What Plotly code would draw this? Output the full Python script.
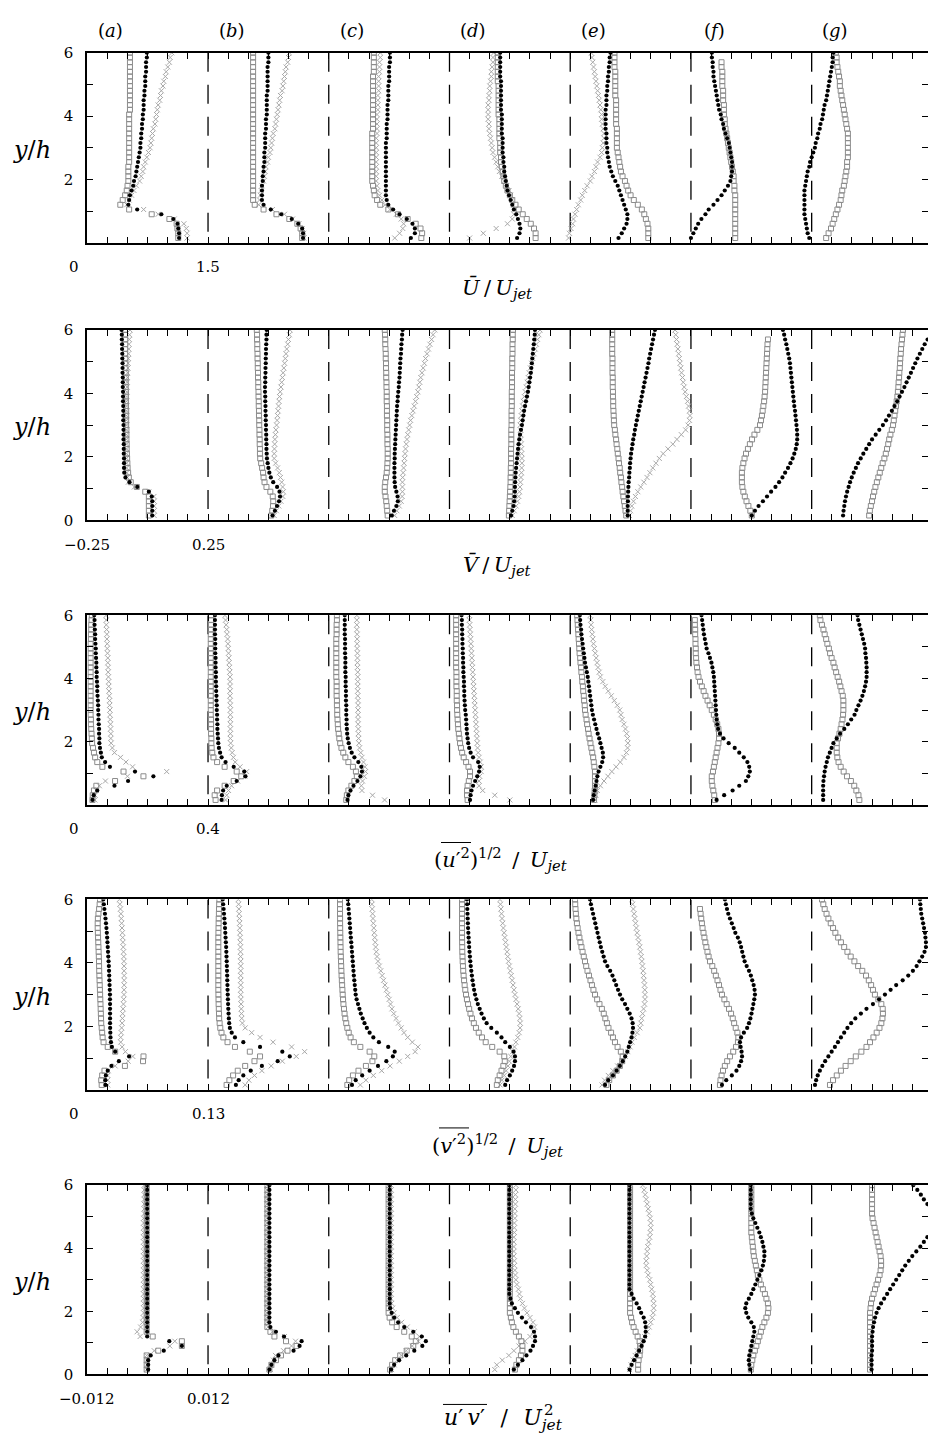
import plotly.graph_objects as go

W, H = 928, 1449
FONT = "DejaVu Serif"

# Wall-normal stations y/h shared by every profile
Y = [0.15, 0.30, 0.45, 0.60, 0.75, 0.90, 1.05, 1.20, 1.35, 1.50,
     1.65, 1.80, 1.95, 2.10, 2.25, 2.40, 2.55, 2.70, 2.85, 3.00,
     3.15, 3.30, 3.45, 3.60, 3.75, 3.90, 4.05, 4.20, 4.35, 4.50,
     4.65, 4.80, 4.95, 5.10, 5.25, 5.40, 5.55, 5.70, 5.85, 6.00]

STATIONS = ["a", "b", "c", "d", "e", "f", "g"]

# ---------------- mean streamwise velocity U/Ujet ----------------
U_squares = [
    [1.13, 1.13, 1.12, 1.11, 1.02, 0.80, 0.52, 0.41, 0.44, 0.47,
     0.49, 0.50, 0.51, 0.51, 0.51, 0.51, 0.52, 0.52, 0.52, 0.52,
     0.52, 0.52, 0.52, 0.52, 0.52, 0.52, 0.52, 0.53, 0.53, 0.53,
     0.53, 0.53, 0.53, 0.53, 0.53, 0.53, 0.53, 0.53, 0.53, 0.53],
    [1.17, 1.17, 1.15, 1.11, 1.01, 0.85, 0.69, 0.58, 0.56, 0.56,
     0.56, 0.56, 0.56, 0.56, 0.56, 0.56, 0.56, 0.56, 0.56, 0.56,
     0.56, 0.56, 0.56, 0.56, 0.56, 0.56, 0.56, 0.56, 0.56, 0.56,
     0.56, 0.56, 0.56, 0.56, 0.56, 0.56, 0.56, 0.56, 0.56, 0.56],
    [1.15, 1.16, 1.14, 1.08, 0.98, 0.86, 0.74, 0.64, 0.60, 0.57,
     0.56, 0.55, 0.54, 0.54, 0.54, 0.54, 0.54, 0.54, 0.54, 0.54,
     0.54, 0.54, 0.54, 0.55, 0.55, 0.55, 0.55, 0.55, 0.55, 0.55,
     0.55, 0.55, 0.55, 0.55, 0.55, 0.56, 0.56, 0.56, 0.56, 0.56],
    [1.07, 1.07, 1.05, 1.01, 0.96, 0.91, 0.86, 0.82, 0.78, 0.75,
     0.72, 0.70, 0.68, 0.67, 0.66, 0.65, 0.64, 0.64, 0.63, 0.63,
     0.63, 0.62, 0.62, 0.62, 0.62, 0.62, 0.61, 0.61, 0.61, 0.61,
     0.61, 0.61, 0.61, 0.60, 0.60, 0.60, 0.60, 0.60, 0.60, 0.60],
    [0.97, 0.97, 0.97, 0.96, 0.94, 0.92, 0.89, 0.84, 0.79, 0.75,
     0.72, 0.70, 0.68, 0.65, 0.63, 0.62, 0.61, 0.60, 0.59, 0.58,
     0.58, 0.58, 0.58, 0.58, 0.57, 0.57, 0.57, 0.57, 0.57, 0.57,
     0.56, 0.56, 0.56, 0.56, 0.56, 0.56, 0.55, 0.55, 0.55, 0.55],
    [0.55, 0.55, 0.55, 0.55, 0.55, 0.55, 0.55, 0.55, 0.55, 0.55,
     0.54, 0.54, 0.53, 0.53, 0.52, 0.51, 0.50, 0.49, 0.48, 0.47,
     0.46, 0.45, 0.44, 0.43, 0.42, 0.42, 0.41, 0.41, 0.41, 0.40,
     0.40, 0.40, 0.39, 0.39, 0.39, 0.39, 0.38, 0.38, None, None],
    [0.18, 0.21, 0.24, 0.26, 0.28, 0.30, 0.32, 0.34, 0.36, 0.37,
     0.38, 0.40, 0.41, 0.42, 0.43, 0.44, 0.44, 0.45, 0.45, 0.45,
     0.45, 0.45, 0.45, 0.44, 0.43, 0.42, 0.41, 0.40, 0.39, 0.38,
     0.37, 0.36, 0.35, 0.35, 0.34, 0.33, 0.32, 0.31, 0.31, 0.30],
]
U_dots = [
    [1.14, 1.14, 1.13, 1.12, 1.07, 0.92, 0.62, 0.51, 0.52, 0.53,
     0.55, 0.57, 0.58, 0.60, 0.61, 0.62, 0.63, 0.64, 0.65, 0.66,
     0.66, 0.67, 0.67, 0.68, 0.68, 0.69, 0.69, 0.70, 0.70, 0.70,
     0.71, 0.71, 0.72, 0.72, 0.72, 0.73, 0.73, 0.73, 0.74, 0.74],
    [1.18, 1.18, 1.17, 1.12, 1.04, 0.91, 0.78, 0.69, 0.67, 0.67,
     0.67, 0.67, 0.68, 0.68, 0.69, 0.69, 0.70, 0.70, 0.70, 0.71,
     0.71, 0.71, 0.71, 0.72, 0.72, 0.72, 0.73, 0.73, 0.73, 0.73,
     0.73, 0.74, 0.74, 0.74, 0.74, 0.74, 0.74, 0.75, 0.75, 0.75],
    [1.02, 1.07, 1.07, 1.04, 0.97, 0.88, 0.80, 0.74, 0.72, 0.71,
     0.71, 0.71, 0.71, 0.71, 0.71, 0.71, 0.71, 0.71, 0.71, 0.71,
     0.71, 0.72, 0.72, 0.72, 0.72, 0.73, 0.73, 0.73, 0.73, 0.74,
     0.74, 0.74, 0.74, 0.75, 0.75, 0.75, 0.75, 0.76, 0.76, 0.76],
    [0.84, 0.87, 0.88, 0.87, 0.85, 0.83, 0.80, 0.78, 0.76, 0.74,
     0.72, 0.71, 0.70, 0.69, 0.68, 0.68, 0.67, 0.67, 0.66, 0.66,
     0.66, 0.66, 0.65, 0.65, 0.65, 0.65, 0.65, 0.64, 0.64, 0.64,
     0.64, 0.64, 0.64, 0.64, 0.63, 0.63, 0.63, 0.63, 0.63, 0.63],
    [0.60, 0.64, 0.67, 0.70, 0.71, 0.71, 0.69, 0.67, 0.65, 0.63,
     0.61, 0.59, 0.56, 0.53, 0.51, 0.49, 0.48, 0.47, 0.46, 0.46,
     0.45, 0.45, 0.45, 0.44, 0.44, 0.44, 0.44, 0.44, 0.45, 0.45,
     0.45, 0.46, 0.46, 0.47, 0.47, 0.48, 0.48, 0.49, 0.49, 0.50],
    [0.00, 0.03, 0.06, 0.09, 0.13, 0.18, 0.22, 0.28, 0.33, 0.38,
     0.42, 0.46, 0.49, 0.50, 0.51, 0.51, 0.51, 0.50, 0.49, 0.48,
     0.47, 0.45, 0.43, 0.41, 0.40, 0.38, 0.37, 0.35, 0.34, 0.33,
     0.32, 0.31, 0.30, 0.29, 0.28, 0.28, 0.27, 0.27, 0.26, 0.26],
    [-0.03, -0.05, -0.06, -0.07, -0.08, -0.09, -0.09, -0.09, -0.09, -0.09,
     -0.09, -0.08, -0.07, -0.06, -0.05, -0.03, -0.02, 0.00, 0.02, 0.04,
     0.05, 0.07, 0.08, 0.10, 0.11, 0.13, 0.14, 0.15, 0.16, 0.18,
     0.19, 0.20, 0.21, 0.22, 0.23, 0.24, 0.25, 0.26, 0.26, 0.27],
]
U_crosses = [
    [1.24, 1.24, 1.23, 1.20, 1.08, 0.88, 0.70, 0.49, 0.52, 0.55,
     0.58, 0.61, 0.65, 0.67, 0.69, 0.70, 0.72, 0.74, 0.76, 0.78,
     0.79, 0.80, 0.81, 0.82, 0.84, 0.85, 0.86, 0.87, 0.88, 0.90,
     0.91, 0.92, 0.94, 0.95, 0.97, 0.98, 1.00, 1.02, 1.03, 1.05],
    [1.19, 1.19, 1.17, 1.13, 1.05, 0.95, 0.80, 0.63, 0.64, 0.65,
     0.66, 0.67, 0.69, 0.70, 0.71, 0.72, 0.74, 0.75, 0.77, 0.78,
     0.79, 0.80, 0.81, 0.83, 0.84, 0.85, 0.86, 0.87, 0.88, 0.89,
     0.90, 0.92, 0.93, 0.94, 0.95, 0.96, 0.97, 0.99, 1.00, 1.01],
    [0.82, 0.88, 0.92, 0.93, 0.90, 0.84, 0.76, 0.70, 0.66, 0.63,
     0.61, 0.60, 0.59, 0.59, 0.59, 0.59, 0.59, 0.59, 0.59, 0.59,
     0.59, 0.59, 0.60, 0.60, 0.60, 0.60, 0.60, 0.61, 0.61, 0.61,
     0.61, 0.62, 0.62, 0.62, 0.62, 0.63, 0.63, 0.63, 0.64, 0.64],
    [0.25, 0.42, 0.58, 0.72, 0.78, 0.80, 0.80, 0.79, 0.78, 0.76,
     0.74, 0.71, 0.68, 0.65, 0.62, 0.60, 0.58, 0.56, 0.54, 0.53,
     0.52, 0.51, 0.50, 0.49, 0.49, 0.48, 0.48, 0.48, 0.48, 0.49,
     0.49, 0.50, 0.50, 0.51, 0.52, 0.52, 0.53, 0.54, 0.54, 0.55],
    [-0.02, -0.01, 0.01, 0.03, 0.04, 0.06, 0.08, 0.10, 0.13, 0.15,
     0.18, 0.21, 0.25, 0.27, 0.30, 0.32, 0.34, 0.37, 0.39, 0.40,
     0.41, 0.42, 0.42, 0.41, 0.40, 0.39, 0.39, 0.38, 0.37, 0.36,
     0.35, 0.34, 0.33, 0.32, 0.31, 0.30, 0.29, 0.28, 0.27, 0.26],
    None,
    None,
]

# ---------------- mean vertical velocity V/Ujet ----------------
V_squares = [
    [0.005, 0.005, 0.005, 0.005, 0.005, -0.010, -0.045, -0.070, -0.078, -0.081,
     -0.083, -0.084, -0.085, -0.086, -0.087, -0.087, -0.088, -0.088, -0.088, -0.089,
     -0.089, -0.089, -0.089, -0.090, -0.090, -0.090, -0.090, -0.091, -0.091, -0.091,
     -0.091, -0.092, -0.092, -0.092, -0.093, -0.093, -0.093, -0.093, -0.094, -0.094],
    [0.012, 0.016, 0.019, 0.020, 0.018, 0.008, -0.008, -0.016, -0.020, -0.022,
     -0.026, -0.030, -0.034, -0.035, -0.035, -0.036, -0.036, -0.037, -0.037, -0.038,
     -0.038, -0.039, -0.039, -0.040, -0.040, -0.041, -0.041, -0.042, -0.042, -0.043,
     -0.043, -0.044, -0.044, -0.045, -0.045, -0.046, -0.046, -0.047, -0.047, -0.048],
    [-0.006, -0.008, -0.010, -0.012, -0.015, -0.018, -0.018, -0.016, -0.013, -0.010,
     -0.008, -0.007, -0.006, -0.006, -0.006, -0.007, -0.007, -0.007, -0.008, -0.008,
     -0.008, -0.009, -0.009, -0.009, -0.010, -0.010, -0.010, -0.011, -0.011, -0.012,
     -0.012, -0.013, -0.013, -0.014, -0.014, -0.015, -0.016, -0.016, -0.017, -0.018],
    [-0.004, -0.003, -0.002, -0.001, 0.000, 0.001, 0.002, 0.003, 0.003, 0.004,
     0.004, 0.005, 0.005, 0.005, 0.005, 0.006, 0.006, 0.006, 0.006, 0.007,
     0.007, 0.007, 0.007, 0.008, 0.008, 0.008, 0.008, 0.009, 0.009, 0.009,
     0.009, 0.010, 0.010, 0.010, 0.011, 0.011, 0.011, 0.012, 0.012, 0.013],
    [-0.018, -0.021, -0.024, -0.027, -0.030, -0.033, -0.035, -0.038, -0.040, -0.043,
     -0.045, -0.048, -0.050, -0.053, -0.055, -0.058, -0.060, -0.063, -0.065, -0.068,
     -0.069, -0.070, -0.071, -0.072, -0.072, -0.073, -0.073, -0.074, -0.074, -0.074,
     -0.075, -0.075, -0.075, -0.075, -0.076, -0.076, -0.076, -0.076, -0.076, -0.076],
    [0.002, -0.004, -0.012, -0.020, -0.027, -0.033, -0.037, -0.039, -0.039, -0.039,
     -0.037, -0.033, -0.028, -0.022, -0.014, -0.006, 0.003, 0.013, 0.025, 0.036,
     0.040, 0.044, 0.047, 0.050, 0.053, 0.055, 0.057, 0.058, 0.059, 0.060,
     0.061, 0.062, 0.063, 0.064, 0.065, 0.066, 0.067, 0.069, None, None],
    [-0.012, -0.009, -0.005, 0.000, 0.004, 0.009, 0.014, 0.020, 0.026, 0.032,
     0.038, 0.044, 0.051, 0.057, 0.062, 0.067, 0.071, 0.076, 0.082, 0.087,
     0.090, 0.093, 0.096, 0.099, 0.102, 0.105, 0.107, 0.109, 0.110, 0.112,
     0.113, 0.115, 0.116, 0.117, 0.119, 0.120, 0.122, 0.124, 0.126, 0.128],
]
V_dots = [
    [0.019, 0.019, 0.019, 0.019, 0.017, 0.005, -0.043, -0.075, -0.092, -0.097,
     -0.098, -0.098, -0.098, -0.099, -0.099, -0.099, -0.100, -0.100, -0.100, -0.100,
     -0.101, -0.101, -0.101, -0.101, -0.102, -0.102, -0.102, -0.103, -0.103, -0.103,
     -0.104, -0.104, -0.104, -0.105, -0.105, -0.106, -0.106, -0.107, -0.107, -0.108],
    [0.017, 0.027, 0.036, 0.044, 0.048, 0.046, 0.036, 0.020, 0.010, 0.004,
     0.000, -0.003, -0.006, -0.007, -0.008, -0.008, -0.009, -0.009, -0.010, -0.010,
     -0.011, -0.011, -0.012, -0.012, -0.013, -0.013, -0.014, -0.014, -0.013, -0.013,
     -0.012, -0.012, -0.011, -0.011, -0.010, -0.010, -0.009, -0.008, -0.008, -0.007],
    [0.011, 0.020, 0.030, 0.036, 0.035, 0.030, 0.025, 0.023, 0.022, 0.022,
     0.022, 0.022, 0.023, 0.023, 0.024, 0.025, 0.026, 0.027, 0.028, 0.029,
     0.030, 0.031, 0.032, 0.033, 0.035, 0.036, 0.038, 0.040, 0.041, 0.043,
     0.044, 0.045, 0.046, 0.047, 0.049, 0.050, 0.051, 0.053, 0.054, 0.056],
    [0.005, 0.010, 0.015, 0.018, 0.020, 0.021, 0.021, 0.022, 0.023, 0.024,
     0.026, 0.028, 0.030, 0.032, 0.034, 0.036, 0.039, 0.042, 0.046, 0.050,
     0.053, 0.056, 0.059, 0.063, 0.067, 0.071, 0.075, 0.078, 0.081, 0.084,
     0.087, 0.089, 0.091, 0.093, 0.095, 0.097, 0.099, 0.101, 0.103, 0.104],
    [-0.012, -0.012, -0.012, -0.011, -0.011, -0.010, -0.009, -0.008, -0.006, -0.005,
     -0.003, -0.002, 0.000, 0.002, 0.005, 0.008, 0.011, 0.015, 0.018, 0.022,
     0.026, 0.030, 0.034, 0.038, 0.042, 0.046, 0.050, 0.054, 0.058, 0.062,
     0.066, 0.070, 0.074, 0.077, 0.081, 0.085, 0.089, 0.093, 0.097, 0.101],
    [0.002, 0.015, 0.030, 0.048, 0.065, 0.082, 0.100, 0.115, 0.129, 0.140,
     0.152, 0.162, 0.171, 0.178, 0.184, 0.188, 0.190, 0.190, 0.189, 0.187,
     0.185, 0.183, 0.181, 0.178, 0.176, 0.174, 0.172, 0.170, 0.168, 0.166,
     0.164, 0.162, 0.160, 0.157, 0.153, 0.149, 0.145, 0.140, 0.136, 0.131],
    [-0.120, -0.118, -0.115, -0.112, -0.108, -0.103, -0.097, -0.091, -0.084, -0.076,
     -0.067, -0.058, -0.047, -0.036, -0.024, -0.012, 0.000, 0.015, 0.030, 0.045,
     0.058, 0.070, 0.082, 0.093, 0.104, 0.114, 0.124, 0.134, 0.143, 0.152,
     0.161, 0.170, 0.179, 0.188, 0.198, 0.208, 0.218, 0.230, 0.242, 0.255],
]
V_crosses = [
    [0.027, 0.027, 0.027, 0.027, 0.026, 0.005, -0.055, -0.080, -0.084, -0.086,
     -0.087, -0.087, -0.087, -0.087, -0.087, -0.087, -0.087, -0.087, -0.087, -0.087,
     -0.087, -0.087, -0.087, -0.087, -0.087, -0.086, -0.086, -0.085, -0.085, -0.084,
     -0.083, -0.082, -0.081, -0.080, -0.079, -0.078, -0.077, -0.076, -0.075, -0.073],
    [0.024, 0.033, 0.043, 0.052, 0.060, 0.062, 0.059, 0.055, 0.050, 0.045,
     0.038, 0.030, 0.024, 0.024, 0.025, 0.026, 0.027, 0.029, 0.031, 0.034,
     0.036, 0.038, 0.040, 0.042, 0.044, 0.046, 0.049, 0.052, 0.055, 0.058,
     0.061, 0.064, 0.067, 0.070, 0.073, 0.076, 0.080, 0.083, 0.087, 0.090],
    [0.023, 0.032, 0.042, 0.050, 0.054, 0.055, 0.055, 0.055, 0.056, 0.058,
     0.060, 0.062, 0.064, 0.066, 0.068, 0.071, 0.074, 0.077, 0.081, 0.085,
     0.089, 0.094, 0.099, 0.104, 0.109, 0.114, 0.119, 0.123, 0.127, 0.131,
     0.136, 0.141, 0.146, 0.151, 0.157, 0.163, 0.169, 0.176, 0.182, 0.189],
    [0.010, 0.018, 0.026, 0.032, 0.037, 0.040, 0.042, 0.044, 0.046, 0.048,
     0.049, 0.050, 0.050, 0.049, 0.048, 0.047, 0.046, 0.045, 0.044, 0.043,
     0.045, 0.047, 0.050, 0.053, 0.056, 0.060, 0.064, 0.068, 0.072, 0.076,
     0.080, 0.085, 0.090, 0.095, 0.100, 0.105, 0.110, 0.115, 0.120, 0.125],
    [-0.005, 0.000, 0.005, 0.012, 0.020, 0.030, 0.042, 0.055, 0.068, 0.080,
     0.092, 0.105, 0.119, 0.135, 0.155, 0.175, 0.192, 0.210, 0.228, 0.238,
     0.244, 0.246, 0.244, 0.240, 0.236, 0.231, 0.226, 0.222, 0.218, 0.215,
     0.211, 0.208, 0.205, 0.202, 0.199, 0.196, 0.193, 0.190, 0.187, 0.184],
    None,
    None,
]

# ---------------- streamwise rms (u'^2)^1/2 / Ujet ----------------
UU_squares = [
    [0.017, 0.018, 0.022, 0.030, 0.092, 0.186, 0.120, 0.050, 0.033, 0.026,
     0.022, 0.019, 0.016, 0.015, 0.014, 0.013, 0.012, 0.012, 0.011, 0.011,
     0.011, 0.011, 0.011, 0.011, 0.011, 0.011, 0.011, 0.011, 0.011, 0.011,
     0.011, 0.011, 0.011, 0.011, 0.012, 0.012, 0.013, 0.013, 0.014, 0.015],
    [0.025, 0.022, 0.030, 0.055, 0.085, 0.110, 0.095, 0.055, 0.030, 0.018,
     0.014, 0.012, 0.011, 0.011, 0.010, 0.010, 0.010, 0.010, 0.009, 0.009,
     0.009, 0.009, 0.009, 0.009, 0.009, 0.009, 0.009, 0.009, 0.009, 0.009,
     0.009, 0.009, 0.009, 0.009, 0.009, 0.009, 0.009, 0.010, 0.010, 0.010],
    [0.058, 0.060, 0.065, 0.075, 0.085, 0.093, 0.090, 0.080, 0.065, 0.055,
     0.048, 0.042, 0.038, 0.035, 0.033, 0.031, 0.030, 0.029, 0.028, 0.028,
     0.027, 0.027, 0.026, 0.026, 0.026, 0.026, 0.025, 0.025, 0.025, 0.025,
     0.025, 0.025, 0.025, 0.025, 0.025, 0.026, 0.026, 0.026, 0.027, 0.027],
    [0.060, 0.058, 0.058, 0.060, 0.064, 0.068, 0.068, 0.063, 0.055, 0.047,
     0.042, 0.038, 0.035, 0.033, 0.031, 0.029, 0.028, 0.027, 0.026, 0.025,
     0.025, 0.024, 0.024, 0.024, 0.023, 0.023, 0.023, 0.023, 0.022, 0.022,
     0.022, 0.022, 0.022, 0.022, 0.022, 0.022, 0.022, 0.022, 0.022, 0.022],
    [0.079, 0.080, 0.081, 0.082, 0.082, 0.082, 0.082, 0.080, 0.078, 0.076,
     0.073, 0.070, 0.067, 0.064, 0.061, 0.059, 0.056, 0.054, 0.051, 0.049,
     0.048, 0.046, 0.045, 0.043, 0.042, 0.040, 0.039, 0.037, 0.036, 0.034,
     0.033, 0.031, 0.030, 0.029, 0.028, 0.027, 0.026, 0.025, 0.024, 0.023],
    [0.079, 0.077, 0.074, 0.071, 0.069, 0.069, 0.073, 0.076, 0.079, 0.082,
     0.085, 0.088, 0.091, 0.093, 0.093, 0.091, 0.087, 0.082, 0.076, 0.069,
     0.062, 0.055, 0.048, 0.042, 0.036, 0.030, 0.025, 0.022, 0.020, 0.018,
     0.017, 0.016, 0.016, 0.015, 0.015, 0.014, 0.014, 0.013, 0.013, None],
    [0.158, 0.155, 0.148, 0.141, 0.130, 0.117, 0.106, 0.096, 0.089, 0.085,
     0.083, 0.083, 0.083, 0.087, 0.092, 0.096, 0.099, 0.102, 0.104, 0.105,
     0.105, 0.105, 0.103, 0.099, 0.095, 0.091, 0.086, 0.081, 0.076, 0.072,
     0.066, 0.061, 0.057, 0.052, 0.048, 0.043, 0.039, 0.034, 0.029, 0.027],
]
UU_dots = [
    [0.017, 0.021, 0.033, 0.090, 0.135, 0.219, 0.158, 0.075, 0.059, 0.048,
     0.045, 0.042, 0.040, 0.040, 0.039, 0.039, 0.038, 0.037, 0.037, 0.036,
     0.036, 0.035, 0.034, 0.033, 0.033, 0.032, 0.031, 0.031, 0.030, 0.030,
     0.029, 0.028, 0.028, 0.027, 0.026, 0.026, 0.025, 0.024, 0.024, 0.023],
    [0.045, 0.046, 0.050, 0.062, 0.095, 0.124, 0.120, 0.085, 0.058, 0.045,
     0.040, 0.036, 0.034, 0.033, 0.032, 0.031, 0.031, 0.030, 0.030, 0.029,
     0.029, 0.028, 0.028, 0.027, 0.027, 0.026, 0.026, 0.026, 0.025, 0.025,
     0.025, 0.024, 0.024, 0.024, 0.024, 0.023, 0.023, 0.023, 0.023, 0.023],
    [0.062, 0.065, 0.072, 0.082, 0.095, 0.105, 0.110, 0.108, 0.098, 0.085,
     0.076, 0.070, 0.066, 0.063, 0.061, 0.060, 0.059, 0.059, 0.058, 0.058,
     0.058, 0.057, 0.057, 0.057, 0.056, 0.056, 0.056, 0.055, 0.055, 0.055,
     0.055, 0.054, 0.054, 0.054, 0.054, 0.053, 0.053, 0.053, 0.053, 0.053],
    [0.068, 0.070, 0.073, 0.078, 0.085, 0.092, 0.098, 0.100, 0.095, 0.078,
     0.070, 0.065, 0.062, 0.060, 0.058, 0.057, 0.056, 0.055, 0.054, 0.052,
     0.051, 0.050, 0.049, 0.049, 0.048, 0.048, 0.047, 0.046, 0.046, 0.045,
     0.045, 0.044, 0.044, 0.043, 0.043, 0.042, 0.042, 0.041, 0.041, 0.040],
    [0.076, 0.078, 0.081, 0.084, 0.087, 0.090, 0.094, 0.100, 0.106, 0.109,
     0.108, 0.104, 0.100, 0.096, 0.091, 0.087, 0.083, 0.079, 0.075, 0.072,
     0.070, 0.068, 0.066, 0.064, 0.062, 0.060, 0.058, 0.055, 0.052, 0.049,
     0.047, 0.045, 0.043, 0.041, 0.039, 0.037, 0.036, 0.034, 0.033, 0.032],
    [0.085, 0.110, 0.138, 0.160, 0.182, 0.190, 0.195, 0.193, 0.187, 0.175,
     0.160, 0.145, 0.125, 0.108, 0.096, 0.090, 0.087, 0.085, 0.084, 0.083,
     0.082, 0.081, 0.080, 0.079, 0.078, 0.077, 0.076, 0.074, 0.071, 0.068,
     0.063, 0.058, 0.052, 0.049, 0.046, 0.043, 0.041, 0.039, 0.037, 0.035],
    [0.038, 0.038, 0.038, 0.038, 0.039, 0.041, 0.043, 0.046, 0.050, 0.054,
     0.060, 0.066, 0.072, 0.083, 0.094, 0.108, 0.120, 0.131, 0.142, 0.148,
     0.155, 0.162, 0.168, 0.173, 0.177, 0.180, 0.182, 0.182, 0.182, 0.181,
     0.180, 0.178, 0.177, 0.174, 0.170, 0.166, 0.162, 0.158, 0.154, 0.152],
]
UU_crosses = [
    [0.025, 0.026, 0.030, 0.040, 0.060, 0.133, 0.263, 0.150, 0.128, 0.110,
     0.090, 0.083, 0.079, 0.078, 0.078, 0.077, 0.077, 0.076, 0.075, 0.075,
     0.074, 0.074, 0.073, 0.072, 0.071, 0.071, 0.070, 0.069, 0.069, 0.068,
     0.068, 0.067, 0.066, 0.066, 0.065, 0.065, 0.064, 0.063, 0.063, 0.062],
    [0.058, 0.062, 0.068, 0.078, 0.098, 0.122, 0.128, 0.106, 0.090, 0.084,
     0.080, 0.077, 0.075, 0.074, 0.074, 0.074, 0.074, 0.074, 0.074, 0.074,
     0.074, 0.073, 0.073, 0.073, 0.073, 0.073, 0.073, 0.072, 0.071, 0.070,
     0.069, 0.068, 0.067, 0.066, 0.065, 0.063, 0.062, 0.060, 0.058, 0.056],
    [0.185, 0.145, 0.110, 0.108, 0.112, 0.118, 0.122, 0.120, 0.115, 0.110,
     0.106, 0.102, 0.100, 0.099, 0.098, 0.098, 0.097, 0.097, 0.097, 0.097,
     0.097, 0.097, 0.096, 0.096, 0.096, 0.096, 0.096, 0.096, 0.095, 0.095,
     0.095, 0.095, 0.094, 0.094, 0.094, 0.094, 0.093, 0.093, 0.093, 0.093],
    [0.200, 0.150, 0.110, 0.098, 0.098, 0.100, 0.105, 0.105, 0.102, 0.098,
     0.095, 0.093, 0.092, 0.091, 0.090, 0.089, 0.088, 0.087, 0.086, 0.085,
     0.084, 0.083, 0.082, 0.081, 0.080, 0.079, 0.078, 0.077, 0.076, 0.075,
     0.074, 0.073, 0.072, 0.071, 0.070, 0.069, 0.068, 0.067, 0.066, 0.066],
    [0.082, 0.085, 0.090, 0.100, 0.112, 0.125, 0.138, 0.152, 0.166, 0.178,
     0.186, 0.190, 0.191, 0.190, 0.187, 0.183, 0.178, 0.172, 0.168, 0.164,
     0.156, 0.146, 0.136, 0.126, 0.116, 0.108, 0.100, 0.096, 0.092, 0.089,
     0.086, 0.083, 0.080, 0.077, 0.075, 0.073, 0.071, 0.069, 0.068, 0.066],
    None,
    None,
]

# ---------------- vertical rms (v'^2)^1/2 / Ujet ----------------
VV_squares = [
    [0.0155, 0.0150, 0.0160, 0.0185, 0.0405, 0.0600, 0.0605, 0.0300, 0.0220, 0.0175,
     0.0165, 0.0160, 0.0155, 0.0150, 0.0148, 0.0146, 0.0144, 0.0142, 0.0140, 0.0138,
     0.0136, 0.0134, 0.0132, 0.0130, 0.0128, 0.0127, 0.0126, 0.0124, 0.0122, 0.0120,
     0.0118, 0.0116, 0.0114, 0.0112, 0.0112, 0.0114, 0.0120, 0.0127, 0.0133, 0.0137],
    [0.0200, 0.0230, 0.0270, 0.0320, 0.0400, 0.0500, 0.0560, 0.0450, 0.0290, 0.0210,
     0.0165, 0.0145, 0.0132, 0.0125, 0.0120, 0.0118, 0.0116, 0.0114, 0.0113, 0.0112,
     0.0111, 0.0111, 0.0111, 0.0111, 0.0111, 0.0111, 0.0111, 0.0111, 0.0111, 0.0111,
     0.0111, 0.0111, 0.0112, 0.0113, 0.0114, 0.0115, 0.0117, 0.0118, 0.0120, 0.0122],
    [0.0200, 0.0220, 0.0260, 0.0320, 0.0400, 0.0470, 0.0490, 0.0440, 0.0340, 0.0270,
     0.0235, 0.0215, 0.0200, 0.0188, 0.0178, 0.0170, 0.0164, 0.0158, 0.0154, 0.0150,
     0.0147, 0.0144, 0.0141, 0.0138, 0.0136, 0.0134, 0.0132, 0.0130, 0.0128, 0.0127,
     0.0126, 0.0125, 0.0124, 0.0123, 0.0122, 0.0122, 0.0121, 0.0121, 0.0121, 0.0121],
    [0.0510, 0.0520, 0.0540, 0.0560, 0.0580, 0.0595, 0.0590, 0.0540, 0.0460, 0.0390,
     0.0350, 0.0315, 0.0285, 0.0262, 0.0242, 0.0226, 0.0212, 0.0200, 0.0188, 0.0178,
     0.0170, 0.0163, 0.0157, 0.0152, 0.0148, 0.0145, 0.0142, 0.0140, 0.0138, 0.0137,
     0.0136, 0.0135, 0.0135, 0.0135, 0.0135, 0.0135, 0.0135, 0.0135, 0.0135, 0.0135],
    [0.0390, 0.0420, 0.0460, 0.0500, 0.0535, 0.0560, 0.0565, 0.0545, 0.0510, 0.0482,
     0.0460, 0.0440, 0.0412, 0.0395, 0.0378, 0.0361, 0.0341, 0.0315, 0.0290, 0.0267,
     0.0250, 0.0234, 0.0218, 0.0202, 0.0186, 0.0172, 0.0159, 0.0146, 0.0133, 0.0121,
     0.0110, 0.0099, 0.0089, 0.0080, 0.0072, 0.0066, 0.0061, 0.0057, 0.0054, 0.0052],
    [0.0312, 0.0318, 0.0330, 0.0345, 0.0365, 0.0390, 0.0420, 0.0455, 0.0485, 0.0506,
     0.0510, 0.0500, 0.0482, 0.0465, 0.0450, 0.0432, 0.0410, 0.0385, 0.0360, 0.0334,
     0.0318, 0.0302, 0.0286, 0.0268, 0.0250, 0.0230, 0.0205, 0.0190, 0.0178, 0.0166,
     0.0155, 0.0145, 0.0135, 0.0125, 0.0118, 0.0111, 0.0104, 0.0097, None, None],
    [0.0197, 0.0230, 0.0270, 0.0315, 0.0365, 0.0420, 0.0475, 0.0535, 0.0590, 0.0628,
     0.0665, 0.0700, 0.0730, 0.0750, 0.0762, 0.0767, 0.0765, 0.0750, 0.0718, 0.0681,
     0.0660, 0.0640, 0.0615, 0.0585, 0.0545, 0.0500, 0.0460, 0.0420, 0.0385, 0.0350,
     0.0315, 0.0285, 0.0255, 0.0230, 0.0205, 0.0180, 0.0160, 0.0140, 0.0125, 0.0111],
]
VV_dots = [
    [0.0195, 0.0195, 0.0200, 0.0220, 0.0260, 0.0340, 0.0450, 0.0300, 0.0265, 0.0255,
     0.0250, 0.0248, 0.0246, 0.0245, 0.0245, 0.0245, 0.0245, 0.0245, 0.0244, 0.0244,
     0.0242, 0.0240, 0.0238, 0.0236, 0.0234, 0.0232, 0.0229, 0.0226, 0.0223, 0.0220,
     0.0217, 0.0214, 0.0210, 0.0206, 0.0201, 0.0196, 0.0190, 0.0184, 0.0178, 0.0172],
    [0.0300, 0.0330, 0.0380, 0.0460, 0.0580, 0.0750, 0.0880, 0.0800, 0.0560, 0.0380,
     0.0290, 0.0255, 0.0235, 0.0228, 0.0224, 0.0221, 0.0218, 0.0216, 0.0214, 0.0212,
     0.0210, 0.0209, 0.0207, 0.0206, 0.0204, 0.0203, 0.0201, 0.0199, 0.0197, 0.0195,
     0.0192, 0.0189, 0.0186, 0.0183, 0.0180, 0.0176, 0.0172, 0.0168, 0.0163, 0.0158],
    [0.0250, 0.0290, 0.0360, 0.0440, 0.0530, 0.0620, 0.0690, 0.0710, 0.0640, 0.0540,
     0.0480, 0.0440, 0.0410, 0.0385, 0.0365, 0.0345, 0.0330, 0.0315, 0.0300, 0.0290,
     0.0285, 0.0280, 0.0275, 0.0270, 0.0266, 0.0262, 0.0258, 0.0254, 0.0250, 0.0246,
     0.0242, 0.0238, 0.0234, 0.0230, 0.0226, 0.0222, 0.0218, 0.0214, 0.0210, 0.0205],
    [0.0600, 0.0620, 0.0650, 0.0675, 0.0695, 0.0705, 0.0705, 0.0690, 0.0650, 0.0600,
     0.0560, 0.0510, 0.0450, 0.0400, 0.0370, 0.0345, 0.0325, 0.0305, 0.0290, 0.0275,
     0.0265, 0.0256, 0.0248, 0.0241, 0.0235, 0.0229, 0.0224, 0.0220, 0.0216, 0.0212,
     0.0209, 0.0206, 0.0203, 0.0200, 0.0198, 0.0196, 0.0194, 0.0192, 0.0190, 0.0188],
    [0.0375, 0.0410, 0.0460, 0.0500, 0.0535, 0.0565, 0.0592, 0.0615, 0.0630, 0.0645,
     0.0660, 0.0670, 0.0676, 0.0672, 0.0660, 0.0640, 0.0615, 0.0590, 0.0560, 0.0536,
     0.0515, 0.0495, 0.0475, 0.0455, 0.0430, 0.0400, 0.0375, 0.0360, 0.0345, 0.0330,
     0.0318, 0.0306, 0.0294, 0.0282, 0.0270, 0.0258, 0.0246, 0.0234, 0.0223, 0.0213],
    [0.0334, 0.0380, 0.0440, 0.0490, 0.0520, 0.0540, 0.0550, 0.0545, 0.0535, 0.0528,
     0.0540, 0.0570, 0.0605, 0.0625, 0.0640, 0.0652, 0.0662, 0.0672, 0.0682, 0.0689,
     0.0685, 0.0675, 0.0660, 0.0645, 0.0625, 0.0600, 0.0578, 0.0565, 0.0552, 0.0540,
     0.0525, 0.0505, 0.0478, 0.0460, 0.0440, 0.0420, 0.0402, 0.0388, 0.0376, 0.0366],
    [0.0036, 0.0048, 0.0065, 0.0088, 0.0115, 0.0145, 0.0180, 0.0215, 0.0250, 0.0283,
     0.0315, 0.0350, 0.0385, 0.0425, 0.0470, 0.0530, 0.0590, 0.0660, 0.0725, 0.0789,
     0.0850, 0.0910, 0.0980, 0.1040, 0.1090, 0.1130, 0.1160, 0.1190, 0.1215, 0.1230,
     0.1230, 0.1225, 0.1220, 0.1210, 0.1200, 0.1190, 0.1180, 0.1175, 0.1170, 0.1166],
]
VV_crosses = [
    [0.0220, 0.0220, 0.0220, 0.0225, 0.0300, 0.0440, 0.0490, 0.0410, 0.0375, 0.0360,
     0.0360, 0.0365, 0.0370, 0.0375, 0.0378, 0.0381, 0.0385, 0.0389, 0.0392, 0.0395,
     0.0396, 0.0397, 0.0397, 0.0397, 0.0396, 0.0396, 0.0395, 0.0393, 0.0390, 0.0387,
     0.0384, 0.0381, 0.0378, 0.0374, 0.0370, 0.0366, 0.0362, 0.0357, 0.0351, 0.0345],
    [0.0400, 0.0440, 0.0500, 0.0580, 0.0680, 0.0800, 0.0950, 0.1040, 0.0900, 0.0700,
     0.0560, 0.0470, 0.0400, 0.0370, 0.0363, 0.0360, 0.0358, 0.0356, 0.0354, 0.0352,
     0.0352, 0.0352, 0.0352, 0.0352, 0.0352, 0.0352, 0.0352, 0.0351, 0.0350, 0.0349,
     0.0348, 0.0346, 0.0344, 0.0342, 0.0340, 0.0338, 0.0335, 0.0332, 0.0329, 0.0326],
    [0.0340, 0.0400, 0.0480, 0.0570, 0.0660, 0.0760, 0.0850, 0.0930, 0.0960, 0.0900,
     0.0850, 0.0810, 0.0780, 0.0750, 0.0725, 0.0700, 0.0680, 0.0665, 0.0650, 0.0635,
     0.0620, 0.0605, 0.0590, 0.0575, 0.0560, 0.0545, 0.0530, 0.0520, 0.0512, 0.0505,
     0.0500, 0.0495, 0.0490, 0.0485, 0.0480, 0.0476, 0.0472, 0.0468, 0.0465, 0.0463],
    [0.0545, 0.0565, 0.0590, 0.0610, 0.0630, 0.0645, 0.0660, 0.0680, 0.0700, 0.0715,
     0.0735, 0.0750, 0.0760, 0.0762, 0.0758, 0.0750, 0.0740, 0.0728, 0.0716, 0.0705,
     0.0695, 0.0685, 0.0675, 0.0665, 0.0655, 0.0645, 0.0635, 0.0627, 0.0620, 0.0612,
     0.0604, 0.0596, 0.0588, 0.0580, 0.0573, 0.0566, 0.0560, 0.0554, 0.0549, 0.0544],
    [0.0342, 0.0370, 0.0410, 0.0460, 0.0510, 0.0560, 0.0595, 0.0620, 0.0645, 0.0665,
     0.0690, 0.0720, 0.0750, 0.0760, 0.0770, 0.0780, 0.0790, 0.0800, 0.0805, 0.0805,
     0.0803, 0.0800, 0.0795, 0.0790, 0.0785, 0.0778, 0.0772, 0.0765, 0.0757, 0.0749,
     0.0740, 0.0730, 0.0720, 0.0712, 0.0704, 0.0696, 0.0688, 0.0680, 0.0672, 0.0665],
    None,
    None,
]

# ---------------- Reynolds shear stress u'v' / Ujet^2 ----------------
UV_squares = [
    [-0.0002, -0.0002, -0.0002, -0.0002, 0.0021, 0.0068, 0.0068, 0.0010, -0.0002, -0.0002,
     -0.0002, -0.0002, -0.0002, -0.0002, -0.0002, -0.0002, -0.0002, -0.0002, -0.0002, -0.0002,
     -0.0002, -0.0002, -0.0002, -0.0002, -0.0002, -0.0002, -0.0002, -0.0002, -0.0002, -0.0002,
     -0.0002, -0.0002, -0.0002, -0.0002, -0.0002, -0.0002, -0.0002, -0.0002, -0.0002, -0.0002],
    [0.0002, 0.0006, 0.0015, 0.0025, 0.0038, 0.0056, 0.0035, 0.0012, 0.0004, -0.0002,
     -0.0002, -0.0002, -0.0002, -0.0002, -0.0002, -0.0002, -0.0002, -0.0002, -0.0002, -0.0002,
     -0.0002, -0.0002, -0.0002, -0.0002, -0.0002, -0.0002, -0.0002, -0.0002, -0.0002, -0.0002,
     -0.0002, -0.0002, -0.0002, -0.0002, -0.0002, -0.0002, -0.0002, -0.0002, -0.0002, -0.0002],
    [0.0002, 0.0006, 0.0012, 0.0022, 0.0035, 0.0048, 0.0053, 0.0045, 0.0030, 0.0015,
     0.0006, 0.0001, -0.0001, -0.0001, -0.0001, -0.0001, -0.0001, -0.0001, -0.0001, -0.0001,
     -0.0001, -0.0001, -0.0001, -0.0001, -0.0001, -0.0001, -0.0001, -0.0001, -0.0001, -0.0001,
     -0.0001, -0.0001, -0.0001, -0.0001, -0.0001, -0.0001, -0.0001, -0.0001, -0.0001, -0.0001],
    [0.0010, 0.0013, 0.0018, 0.0022, 0.0025, 0.0025, 0.0023, 0.0018, 0.0012, 0.0007,
     0.0004, 0.0002, 0.0000, 0.0000, 0.0000, 0.0000, 0.0000, 0.0000, 0.0000, 0.0000,
     0.0000, 0.0000, 0.0000, 0.0000, 0.0000, 0.0000, 0.0000, 0.0000, 0.0000, 0.0000,
     0.0000, 0.0000, 0.0000, 0.0000, 0.0000, 0.0000, 0.0000, 0.0000, 0.0000, 0.0000],
    [0.0015, 0.0015, 0.0016, 0.0018, 0.0019, 0.0019, 0.0018, 0.0014, 0.0010, 0.0006,
     0.0003, 0.0001, -0.0001, -0.0001, -0.0001, -0.0001, -0.0001, -0.0001, -0.0001, -0.0001,
     -0.0001, -0.0001, -0.0001, -0.0001, -0.0001, -0.0001, -0.0001, -0.0001, -0.0001, -0.0001,
     -0.0001, -0.0001, -0.0001, -0.0001, -0.0001, -0.0001, -0.0001, -0.0001, -0.0001, -0.0001],
    [-0.0001, 0.0000, 0.0002, 0.0004, 0.0007, 0.0010, 0.0013, 0.0016, 0.0019, 0.0022,
     0.0026, 0.0030, 0.0033, 0.0034, 0.0033, 0.0030, 0.0027, 0.0023, 0.0019, 0.0016,
     0.0013, 0.0011, 0.0009, 0.0007, 0.0005, 0.0004, 0.0003, 0.0002, 0.0001, 0.0000,
     0.0000, 0.0000, 0.0000, 0.0000, 0.0000, 0.0000, 0.0000, 0.0000, 0.0000, 0.0000],
    [-0.0004, -0.0004, -0.0004, -0.0004, -0.0004, -0.0004, -0.0004, -0.0004, -0.0004, -0.0004,
     -0.0004, -0.0004, -0.0004, -0.0003, -0.0002, 0.0000, 0.0003, 0.0006, 0.0009, 0.0012,
     0.0015, 0.0017, 0.0018, 0.0018, 0.0017, 0.0015, 0.0013, 0.0011, 0.0009, 0.0007,
     0.0005, 0.0003, 0.0001, 0.0000, 0.0000, 0.0000, 0.0000, 0.0000, 0.0000, 0.0000],
]
UV_dots = [
    [0.0001, 0.0001, 0.0001, 0.0006, 0.0032, 0.0068, 0.0043, -0.0001, -0.0001, -0.0001,
     -0.0001, -0.0001, -0.0001, -0.0001, -0.0001, -0.0001, -0.0001, -0.0001, -0.0001, -0.0001,
     -0.0001, -0.0001, -0.0001, -0.0001, -0.0001, -0.0001, -0.0001, -0.0001, -0.0001, -0.0001,
     -0.0001, -0.0001, -0.0001, -0.0001, -0.0001, -0.0001, -0.0001, -0.0001, -0.0001, -0.0001],
    [0.0002, 0.0006, 0.0012, 0.0020, 0.0050, 0.0062, 0.0066, 0.0031, 0.0015, 0.0004,
     0.0002, 0.0002, 0.0002, 0.0002, 0.0002, 0.0002, 0.0002, 0.0002, 0.0002, 0.0002,
     0.0002, 0.0002, 0.0002, 0.0002, 0.0002, 0.0002, 0.0002, 0.0002, 0.0002, 0.0002,
     0.0002, 0.0002, 0.0002, 0.0002, 0.0002, 0.0002, 0.0002, 0.0002, 0.0002, 0.0002],
    [0.0004, 0.0010, 0.0020, 0.0034, 0.0050, 0.0066, 0.0073, 0.0065, 0.0048, 0.0030,
     0.0018, 0.0010, 0.0005, 0.0002, 0.0001, 0.0001, 0.0001, 0.0001, 0.0001, 0.0001,
     0.0001, 0.0001, 0.0001, 0.0001, 0.0001, 0.0001, 0.0001, 0.0001, 0.0001, 0.0001,
     0.0001, 0.0001, 0.0001, 0.0001, 0.0001, 0.0001, 0.0001, 0.0001, 0.0001, 0.0001],
    [0.0008, 0.0016, 0.0025, 0.0033, 0.0041, 0.0046, 0.0050, 0.0050, 0.0048, 0.0042,
     0.0032, 0.0024, 0.0016, 0.0010, 0.0004, 0.0001, -0.0001, -0.0001, -0.0001, -0.0001,
     -0.0001, -0.0001, -0.0001, -0.0001, -0.0001, -0.0001, -0.0001, -0.0001, -0.0001, -0.0001,
     -0.0001, -0.0001, -0.0001, -0.0001, -0.0001, -0.0001, -0.0001, -0.0001, -0.0001, -0.0001],
    [-0.0002, 0.0002, 0.0007, 0.0012, 0.0017, 0.0022, 0.0026, 0.0029, 0.0030, 0.0030,
     0.0029, 0.0026, 0.0021, 0.0017, 0.0012, 0.0006, 0.0002, -0.0002, -0.0002, -0.0002,
     -0.0002, -0.0002, -0.0002, -0.0002, -0.0002, -0.0002, -0.0002, -0.0002, -0.0002, -0.0002,
     -0.0002, -0.0002, -0.0002, -0.0002, -0.0002, -0.0002, -0.0002, -0.0002, -0.0002, -0.0002],
    [-0.0002, -0.0004, -0.0005, -0.0004, -0.0002, 0.0000, 0.0002, 0.0004, 0.0006, 0.0005,
     0.0000, -0.0006, -0.0010, -0.0012, -0.0010, -0.0005, 0.0000, 0.0004, 0.0008, 0.0012,
     0.0016, 0.0020, 0.0023, 0.0025, 0.0026, 0.0026, 0.0024, 0.0022, 0.0019, 0.0016,
     0.0012, 0.0008, 0.0004, 0.0001, -0.0001, -0.0001, -0.0001, -0.0001, -0.0001, -0.0001],
    [-0.0001, -0.0001, -0.0001, -0.0001, 0.0000, 0.0000, 0.0000, 0.0000, 0.0001, 0.0002,
     0.0004, 0.0006, 0.0009, 0.0013, 0.0018, 0.0024, 0.0030, 0.0036, 0.0042, 0.0048,
     0.0054, 0.0060, 0.0066, 0.0073, 0.0080, 0.0088, 0.0096, 0.0103, 0.0110, 0.0116,
     0.0121, 0.0124, 0.0124, 0.0122, 0.0117, 0.0110, 0.0103, 0.0097, 0.0090, 0.0082],
]
UV_crosses = [
    [-0.0002, -0.0002, -0.0002, -0.0002, 0.0013, 0.0044, 0.0054, -0.0015, -0.0021, -0.0014,
     -0.0010, -0.0009, -0.0008, -0.0008, -0.0008, -0.0008, -0.0008, -0.0008, -0.0008, -0.0008,
     -0.0008, -0.0008, -0.0008, -0.0008, -0.0008, -0.0008, -0.0008, -0.0008, -0.0008, -0.0008,
     -0.0008, -0.0008, -0.0008, -0.0007, -0.0007, -0.0007, -0.0007, -0.0007, -0.0007, -0.0007],
    [0.0004, 0.0006, 0.0010, 0.0014, 0.0030, 0.0046, 0.0054, 0.0032, 0.0008, -0.0001,
     -0.0003, -0.0003, -0.0003, -0.0003, -0.0003, -0.0003, -0.0003, -0.0003, -0.0003, -0.0003,
     -0.0003, -0.0003, -0.0003, -0.0003, -0.0003, -0.0003, -0.0003, -0.0003, -0.0003, -0.0003,
     -0.0003, -0.0003, -0.0003, -0.0003, -0.0003, -0.0003, -0.0003, -0.0003, -0.0003, -0.0003],
    [0.0005, 0.0010, 0.0016, 0.0024, 0.0034, 0.0046, 0.0058, 0.0060, 0.0050, 0.0036,
     0.0025, 0.0016, 0.0010, 0.0007, 0.0005, 0.0004, 0.0004, 0.0004, 0.0004, 0.0004,
     0.0004, 0.0004, 0.0004, 0.0004, 0.0004, 0.0004, 0.0004, 0.0004, 0.0004, 0.0004,
     0.0004, 0.0004, 0.0004, 0.0004, 0.0004, 0.0004, 0.0004, 0.0004, 0.0004, 0.0004],
    [-0.0030, -0.0026, -0.0015, -0.0002, 0.0008, 0.0018, 0.0030, 0.0040, 0.0047, 0.0049,
     0.0046, 0.0040, 0.0034, 0.0029, 0.0025, 0.0021, 0.0019, 0.0017, 0.0014, 0.0012,
     0.0011, 0.0010, 0.0009, 0.0009, 0.0008, 0.0008, 0.0008, 0.0008, 0.0008, 0.0009,
     0.0009, 0.0009, 0.0010, 0.0010, 0.0010, 0.0011, 0.0011, 0.0011, 0.0012, 0.0012],
    [-0.0002, 0.0001, 0.0005, 0.0009, 0.0013, 0.0017, 0.0022, 0.0028, 0.0033, 0.0037,
     0.0040, 0.0043, 0.0045, 0.0046, 0.0046, 0.0045, 0.0044, 0.0042, 0.0040, 0.0038,
     0.0035, 0.0033, 0.0031, 0.0031, 0.0032, 0.0033, 0.0034, 0.0036, 0.0038, 0.0039,
     0.0040, 0.0040, 0.0039, 0.0037, 0.0035, 0.0033, 0.0031, 0.0029, 0.0027, 0.0024],
    None,
    None,
]

# Each panel: value at the left edge of a station column and the column width
PANEL_RANGES = [(0.0, 1.5), (-0.25, 0.5), (0.0, 0.4), (0.0, 0.13), (-0.012, 0.024)]
PANEL_SERIES = [
    (U_crosses, U_squares, U_dots),
    (V_crosses, V_squares, V_dots),
    (UU_crosses, UU_squares, UU_dots),
    (VV_crosses, VV_squares, VV_dots),
    (UV_crosses, UV_squares, UV_dots),
]
X_TICK_LABELS = [("0", "1.5"), ("\u22120.25", "0.25"), ("0", "0.4"),
                 ("0", "0.13"), ("\u22120.012", "0.012")]
Y_LABELLED = [[2, 4, 6], [0, 2, 4, 6], [2, 4, 6], [2, 4, 6], [0, 2, 4, 6]]

SP = "\u2002"  # en space around the solidus
TITLES = [
    "<i>\u016a</i>\u2009/\u2009<i>U</i><sub><i>jet</i></sub>",
    "<i>V\u0304</i>\u2009/\u2009<i>U</i><sub><i>jet</i></sub>",
    "(<i>u</i>\u2032<sup>2</sup>)<sup>1/2</sup>" + SP + "/" + SP + "<i>U</i><sub><i>jet</i></sub>",
    "(<i>v</i>\u2032<sup>2</sup>)<sup>1/2</sup>" + SP + "/" + SP + "<i>U</i><sub><i>jet</i></sub>",
    "<i>u</i>\u2032\u2009<i>v</i>\u2032" + SP + "\u2009/" + SP + "\u2009<i>U</i><sub><i>jet</i></sub>",
]
# (x, anchor, y centre, font size) of each quantity label, in pixels
TITLE_POS = [(497, "center", 283, 21), (497, "center", 564, 21), (432, "left", 861, 21),
             (430, "left", 1150, 21), (442, "left", 1428, 22)]
OVERLINES = [None, None, (441, 471, 844), (439, 469, 1133), (443, 487, 1413)]

# ---------------- geometry (pixels) ----------------
PLOT_LEFT = 87.3
COL_W = 120.73
PANEL_TOP = [44.3, 325.0, 614.0, 901.7, 1191.0]
PANEL_BOT = [236.7, 517.7, 805.7, 1094.3, 1382.5]

SQUARE_STYLE = dict(symbol="square-open", size=5, color="#8c8c8c", line=dict(width=1, color="#8c8c8c"))
CROSS_STYLE = dict(symbol="x-thin-open", size=5, color="#a8a8a8", line=dict(width=1, color="#a8a8a8"))
DOT_STYLE = dict(symbol="circle", size=4.2, color="black", line=dict(width=0))


def px(x):
    return x / W


def py(y):
    return 1 - y / H


fig = go.Figure()
layout = dict(width=W, height=H, margin=dict(l=0, r=0, t=0, b=0),
              paper_bgcolor="white", plot_bgcolor="white", showlegend=False,
              font=dict(family=FONT, size=15, color="black"))
shapes, annotations = [], []

for p, ((vmin, span), series) in enumerate(zip(PANEL_RANGES, PANEL_SERIES)):
    n = p + 1
    sfx = "" if n == 1 else str(n)
    xa, ya = "x" + sfx, "y" + sfx
    for data, style in zip(series, (CROSS_STYLE, SQUARE_STYLE, DOT_STYLE)):
        xs, ys = [], []
        for k, prof in enumerate(data):
            if prof is None:
                continue
            for yv, v in zip(Y, prof):
                if v is not None:
                    xs.append(v + k * span)
                    ys.append(yv)
        fig.add_trace(go.Scatter(x=xs, y=ys, mode="markers", marker=style,
                                 xaxis=xa, yaxis=ya, hoverinfo="skip", cliponaxis=True))
    # overlay axis carrying the tick marks on the right-hand side
    fig.add_trace(go.Scatter(x=[], y=[], xaxis=xa, yaxis="y" + str(n + 5), hoverinfo="skip"))

    x_end = vmin + span * (W - PLOT_LEFT) / COL_W
    dom = [py(PANEL_BOT[p]), py(PANEL_TOP[p])]
    labelled = Y_LABELLED[p]
    layout["xaxis" + sfx] = dict(
        domain=[px(PLOT_LEFT), 1.0], range=[vmin, x_end], anchor=ya,
        showline=True, linewidth=2, linecolor="black", mirror="ticks",
        ticks="inside", ticklen=6, tickwidth=1.2, tickcolor="black",
        tickmode="linear", tick0=vmin, dtick=span / 6,
        showticklabels=False, showgrid=False, zeroline=False)
    layout["yaxis" + sfx] = dict(
        domain=dom, range=[0, 6], anchor=xa,
        showline=True, linewidth=2, linecolor="black",
        ticks="inside", ticklen=6, tickwidth=1.2, tickcolor="black",
        tickmode="array", tickvals=labelled, ticktext=[str(v) for v in labelled],
        minor=dict(tickmode="array", tickvals=[1, 3, 5], ticks="inside", ticklen=6,
                   tickwidth=1.2, tickcolor="black", showgrid=False),
        ticklabelstandoff=9, tickfont=dict(size=15),
        showgrid=False, zeroline=False)
    layout["yaxis" + str(n + 5)] = dict(
        overlaying=ya, anchor=xa, side="right", range=[0, 6],
        tickmode="array", tickvals=[1, 2, 3, 4, 5], ticks="inside", ticklen=6,
        tickwidth=1.2, tickcolor="black", showticklabels=False,
        showline=False, showgrid=False, zeroline=False)

    # dashed separators between stations
    for k in range(1, 7):
        shapes.append(dict(type="line", xref=xa, yref=ya, x0=vmin + k * span, x1=vmin + k * span,
                           y0=6, y1=0, line=dict(color="black", width=1.3, dash="19px,13px"),
                           layer="below"))

    # value labels under each panel
    lo, hi = X_TICK_LABELS[p]
    lo_x = 87 if lo.startswith("\u2212") else 74
    lab_y = PANEL_BOT[p] + 25
    annotations.append(dict(text=lo, x=px(lo_x), y=py(lab_y), xref="paper", yref="paper",
                            showarrow=False, xanchor="center", yanchor="middle",
                            font=dict(size=15)))
    annotations.append(dict(text=hi, x=px(208), y=py(lab_y), xref="paper", yref="paper",
                            showarrow=False, xanchor="center", yanchor="middle",
                            font=dict(size=15)))
    # y/h label
    annotations.append(dict(text="<i>y</i>/<i>h</i>", x=px(32),
                            y=py((PANEL_TOP[p] + PANEL_BOT[p]) / 2 + 2),
                            xref="paper", yref="paper", showarrow=False,
                            xanchor="center", yanchor="middle", font=dict(size=24)))
    # quantity label
    tx, tanchor, ty, tsize = TITLE_POS[p]
    annotations.append(dict(text=TITLES[p], x=px(tx), y=py(ty),
                            xref="paper", yref="paper", showarrow=False,
                            xanchor=tanchor, yanchor="middle", font=dict(size=tsize)))
    if OVERLINES[p] is not None:
        x0, x1, yl = OVERLINES[p]
        shapes.append(dict(type="line", xref="paper", yref="paper", x0=px(x0), x1=px(x1),
                           y0=py(yl), y1=py(yl), line=dict(color="black", width=1)))

# superscript 2 stacked above the "jet" subscript in the shear-stress label
annotations.append(dict(text="2", x=px(549), y=py(1419), xref="paper", yref="paper",
                        showarrow=False, xanchor="center", yanchor="middle",
                        font=dict(size=15)))

# station letters along the top
for k, s in enumerate(STATIONS):
    annotations.append(dict(text="(<i>%s</i>)" % s, x=px(PLOT_LEFT + k * COL_W + 23.5), y=py(22),
                            xref="paper", yref="paper", showarrow=False,
                            xanchor="center", yanchor="middle", font=dict(size=18)))

layout["shapes"] = shapes
layout["annotations"] = annotations
fig.update_layout(**layout)
fig.write_html("out.html")
